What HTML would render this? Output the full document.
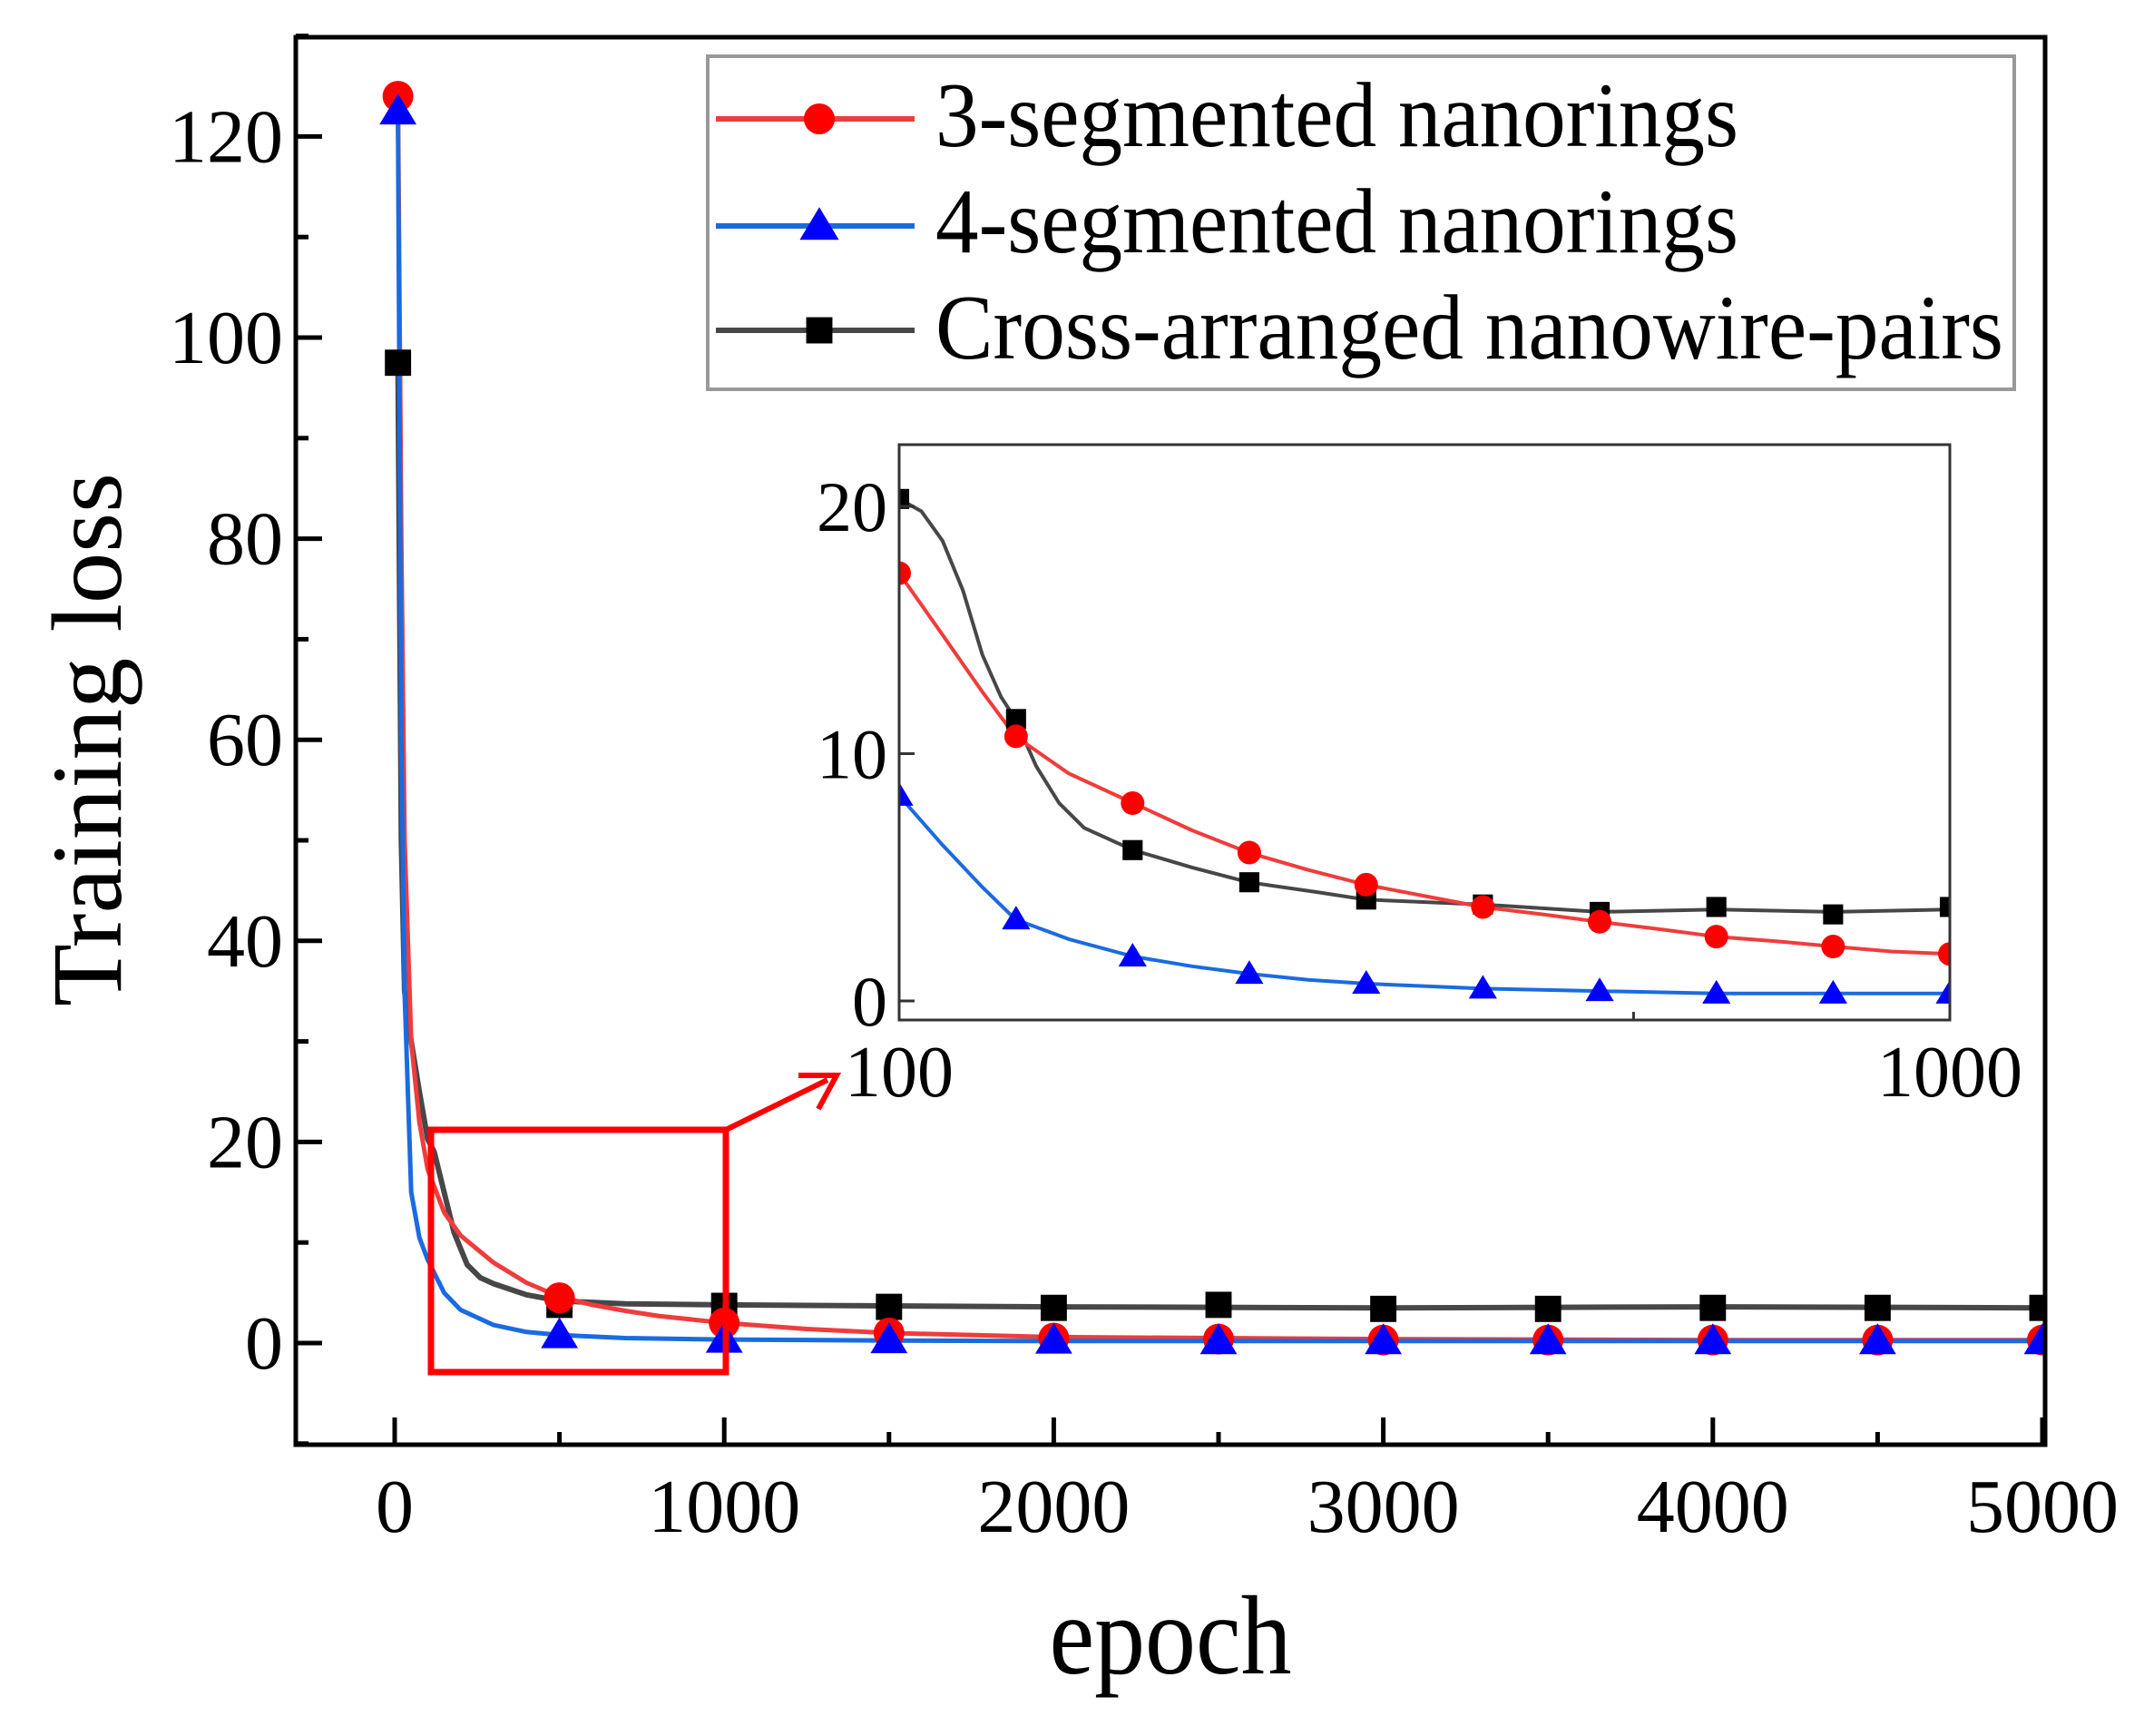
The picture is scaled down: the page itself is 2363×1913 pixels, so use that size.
<!DOCTYPE html>
<html><head><meta charset="utf-8">
<style>
html,body{margin:0;padding:0;background:#fff;}
svg{display:block;font-family:"Liberation Serif",serif;}
</style></head>
<body>
<svg id="chart" width="2363" height="1913" viewBox="0 0 2363 1913" xmlns="http://www.w3.org/2000/svg">
<rect x="0" y="0" width="2363" height="1913" fill="#fff"/>
<g id="main"></g>
<g id="inset"></g>
<g id="legend"></g>
<text x="1290" y="1844" font-size="124" text-anchor="middle" textLength="267" lengthAdjust="spacingAndGlyphs">epoch</text>
<text transform="translate(133,815) rotate(-90)" font-size="110" text-anchor="middle" textLength="588" lengthAdjust="spacingAndGlyphs">Training loss</text>
</svg>
<script>
// ---- main chart data ----
const redEpochs = [10,20,30,50,75,100,150,200,300,400,500,600,700,800,1000,1250,1500,2000,3000,4000,5000];
const redLoss   = [124,80,50,30,22,17.3,13,10.7,8,6,4.6,3.8,3.2,2.7,2,1.4,1,0.6,0.4,0.3,0.3];
const blueEpochs = [10,20,30,50,75,100,150,200,300,400,500,700,1000,1500,2000,3000,5000];
const blueLoss   = [122.5,60,35,15,10.5,8.3,5,3.3,1.8,1.1,0.8,0.5,0.35,0.25,0.2,0.2,0.2];
const blackEpochs = [10,20,30,50,75,100,120,150,180,220,260,300,400,500,700,1000,2000,3000,4000,5000];
const blackLoss   = [97.5,50,35,30,25,20.3,19,15,11,7.8,6.5,5.9,4.8,4.2,3.9,3.8,3.6,3.5,3.6,3.5];
const markerEpochs = [10,500,1000,1500,2000,2500,3000,3500,4000,4500,5000];
const redMarkers   = [124,4.5,2,1,0.5,0.4,0.3,0.3,0.3,0.3,0.3];
const blueMarkers  = [122.5,0.8,0.35,0.3,0.25,0.2,0.2,0.2,0.2,0.2,0.2];
const blackMarkers = [97.5,3.8,3.7,3.6,3.5,3.8,3.4,3.4,3.5,3.5,3.5];
const xTicks = [0,1000,2000,3000,4000,5000];
const xMinor = [500,1500,2500,3500,4500];
const yTicks = [0,20,40,60,80,100,120];
const yMinor = [-10,10,30,50,70,90,110,130];
// ---- inset data ----
const insetEpochs = [100,129.2,166.8,215.4,278.3,359.4,464.2,599.5,774.3,1000];
const insetRed   = [17.3,10.7,8,6,4.7,3.8,3.2,2.6,2.2,1.9];
const insetBlue  = [8.3,3.3,1.8,1.1,0.7,0.5,0.4,0.3,0.3,0.3];
const insetBlack = [20.3,11.4,6.1,4.8,4.1,3.9,3.6,3.8,3.5,3.8];
const insetRedCurveEpochs = [100,110,120,129,145,167,190,215,245,278,320,359,410,464,530,600,690,774,880,1000];
const insetRedCurve       = [17.3,14.8,12.5,10.7,9.2,8,6.9,6,5.3,4.7,4.2,3.8,3.5,3.2,2.9,2.6,2.4,2.2,2.0,1.9];
const insetBlueCurveEpochs = [100,110,120,129,145,167,190,215,245,278,359,464,600,1000];
const insetBlueCurve       = [8.3,6.3,4.6,3.3,2.5,1.8,1.4,1.1,0.85,0.7,0.5,0.4,0.3,0.3];
const insetBlackCurveEpochs = [100,105,110,115,120,125,129,135,142,150,167,190,215,250,278,359,464,600,774,1000];
const insetBlackCurve       = [20.3,19.8,18.6,16.6,14,12.3,11.4,9.5,8,7,6.1,5.4,4.8,4.4,4.1,3.9,3.6,3.7,3.6,3.7];
const insetYTicks = [0,10,20];
const insetXLabels = [100,1000];

const NS="http://www.w3.org/2000/svg";
function mk(tag,attrs,parent){const e=document.createElementNS(NS,tag);for(const k in attrs)e.setAttribute(k,attrs[k]);parent.appendChild(e);return e;}

const X = e => 435 + e*0.3632;
const Y = v => 1480 - v*11.08;
const main=document.getElementById('main');
const RED="#f03c3c",BLUE="#1a6be0",GRAY="#474747";

function marker(type,x,y,r,parent,name){
  let m;
  if(type==='circle') m=mk('circle',{cx:x,cy:y,r:r,fill:'#ff0000'},parent);
  else if(type==='tri') m=mk('polygon',{points:`${x},${y-r*1.15} ${x-r*1.2},${y+r*0.85} ${x+r*1.2},${y+r*0.85}`,fill:'#0000ff'},parent);
  else m=mk('rect',{x:x-r*0.85,y:y-r*0.85,width:r*1.7,height:r*1.7,fill:'#000'},parent);
  
  
}
function line(xs,ys,fx,fy,color,w,parent,name){
  const pts=xs.map((e,i)=>fx(e).toFixed(1)+','+fy(ys[i]).toFixed(1)).join(' ');
  const p=mk('polyline',{points:pts,fill:'none',stroke:color,'stroke-width':w,'stroke-linejoin':'round'},parent);
  
  
}
const defs=mk('defs',{},main);
const cp=mk('clipPath',{id:'mclip'},defs);mk('rect',{x:326,y:41,width:1928,height:1551},cp);
const cpi=mk('clipPath',{id:'iclip'},defs);mk('rect',{x:991,y:490,width:1158,height:634},cpi);
const series=mk('g',{'clip-path':'url(#mclip)'},main);


line(blackEpochs,blackLoss,X,Y,GRAY,6,series,'line-cross-arranged');
line(redEpochs,redLoss,X,Y,RED,5,series,'line-3-segmented');
line(blueEpochs,blueLoss,X,Y,BLUE,5,series,'line-4-segmented');
markerEpochs.forEach((e,i)=>marker('rect',X(e),Y(blackMarkers[i]),17,series,'marker-cross-arranged'));
markerEpochs.forEach((e,i)=>marker('circle',X(e),Y(redMarkers[i]),17,series,'marker-3-segmented'));
markerEpochs.forEach((e,i)=>marker('tri',X(e),Y(blueMarkers[i]),17,series,'marker-4-segmented'));

const fr=mk('rect',{x:326,y:41,width:1928,height:1551,fill:'none',stroke:'#000','stroke-width':5},main);

xTicks.forEach(t=>{
  const l=mk('line',{x1:X(t),x2:X(t),y1:1592,y2:1562,stroke:'#000','stroke-width':5},main);
  
  const tx=mk('text',{x:X(t),y:1688,'font-size':84,'text-anchor':'middle'},main);tx.textContent=t;
  
});
xMinor.forEach(t=>{const l=mk('line',{x1:X(t),x2:X(t),y1:1592,y2:1578,stroke:'#000','stroke-width':5},main);
  });
yTicks.forEach(t=>{
  const l=mk('line',{x1:326,x2:355,y1:Y(t),y2:Y(t),stroke:'#000','stroke-width':5},main);
  
  const tx=mk('text',{x:312,y:Y(t)+28,'font-size':84,'text-anchor':'end'},main);tx.textContent=t;
  
});
yMinor.forEach(t=>{const l=mk('line',{x1:326,x2:340,y1:Y(t),y2:Y(t),stroke:'#000','stroke-width':5},main);
  });

const zb=mk('rect',{x:475,y:1245,width:325,height:267,fill:'none',stroke:'#ff0000','stroke-width':7},main);

const ar=mk('line',{x1:800,y1:1245,x2:912,y2:1190,stroke:'#ff0000','stroke-width':6},main);

const ah=mk('polyline',{points:'880,1185 922,1185 902,1222',fill:'none',stroke:'#ff0000','stroke-width':6},main);


const inset=document.getElementById('inset');
const IX = e => 991 + Math.log10(e/100)*1158;
const IY = v => 1103 - v*27.25;
mk('rect',{x:991,y:490,width:1158,height:634,fill:'#fff'},inset);
const is=mk('g',{'clip-path':'url(#iclip)'},inset);

line(insetBlackCurveEpochs,insetBlackCurve,IX,IY,GRAY,4,is,'inset-line-cross-arranged');
line(insetRedCurveEpochs,insetRedCurve,IX,IY,RED,4,is,'inset-line-3-segmented');
line(insetBlueCurveEpochs,insetBlueCurve,IX,IY,BLUE,4,is,'inset-line-4-segmented');
insetEpochs.forEach((e,i)=>marker('rect',IX(e),IY(insetBlack[i]),13,is,'inset-marker-cross-arranged'));
insetEpochs.forEach((e,i)=>marker('circle',IX(e),IY(insetRed[i]),13,is,'inset-marker-3-segmented'));
insetEpochs.forEach((e,i)=>marker('tri',IX(e),IY(insetBlue[i]),13,is,'inset-marker-4-segmented'));
const ifr=mk('rect',{x:991,y:490,width:1158,height:634,fill:'none',stroke:'#333','stroke-width':3},inset);

insetYTicks.forEach(t=>{
  const l=mk('line',{x1:991,x2:1008,y1:IY(t),y2:IY(t),stroke:'#333','stroke-width':3},inset);
  
  const tx=mk('text',{x:978,y:IY(t)+27,'font-size':78,'text-anchor':'end'},inset);tx.textContent=t;
  
});
const im=mk('line',{x1:IX(500),x2:IX(500),y1:1124,y2:1115,stroke:'#333','stroke-width':3},inset);

insetXLabels.forEach(t=>{
  const tx=mk('text',{x:IX(t),y:1208,'font-size':80,'text-anchor':'middle'},inset);tx.textContent=t;
  
});

const lg=document.getElementById('legend');
const lb=mk('rect',{x:780,y:62,width:1440,height:367,fill:'#fff',stroke:'#999','stroke-width':4},lg);

const entries=[['3-segmented nanorings',RED,'circle',131,161,885],['4-segmented nanorings',BLUE,'tri',249,278,885],['Cross-arranged nanowire-pairs',GRAY,'rect',364,395,1177]];
entries.forEach(en=>{
  const g=mk('g',{},lg);
  
  mk('line',{x1:789,x2:1008,y1:en[3],y2:en[3],stroke:en[1],'stroke-width':6},g);
  marker(en[2],903,en[3],en[2]==='tri'?18:17,g,'legend-marker');
  const tx=mk('text',{x:1031,y:en[4],'font-size':102,textLength:en[5],lengthAdjust:'spacingAndGlyphs'},g);
  tx.textContent=en[0];
  
});
</script>
</body></html>
